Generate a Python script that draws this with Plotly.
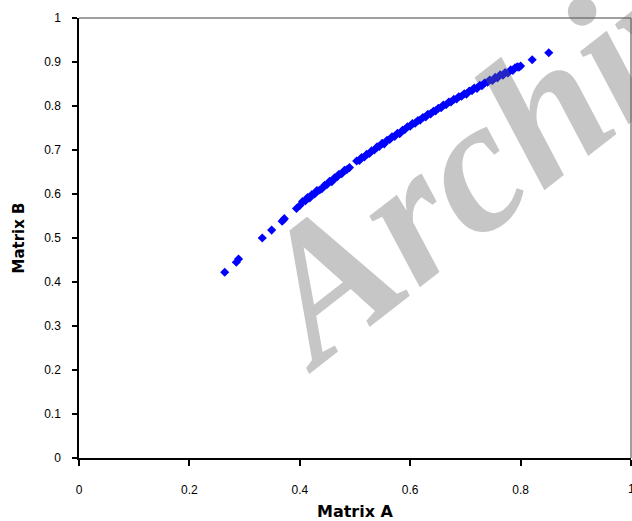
import plotly.graph_objects as go

# Matrix A (x) and Matrix B (y) values
matrix_a = [0.264, 0.285, 0.289, 0.332, 0.349, 0.368, 0.370, 0.372, 0.394,
            0.400, 0.405, 0.410, 0.414, 0.418, 0.422, 0.427, 0.431, 0.436, 0.440,
            0.445, 0.449, 0.454, 0.458, 0.463, 0.467, 0.471, 0.476, 0.481, 0.485,
            0.490, 0.503, 0.508, 0.512, 0.517, 0.521, 0.526, 0.530, 0.535, 0.540,
            0.544, 0.549, 0.553, 0.558, 0.563, 0.567, 0.572, 0.577, 0.581, 0.586,
            0.590, 0.595, 0.600, 0.604, 0.609, 0.614, 0.618, 0.623, 0.628, 0.632,
            0.637, 0.642, 0.646, 0.651, 0.656, 0.660, 0.665, 0.670, 0.674, 0.679,
            0.684, 0.688, 0.693, 0.698, 0.702, 0.707, 0.712, 0.716, 0.721, 0.726,
            0.730, 0.735, 0.740, 0.744, 0.749, 0.754, 0.758, 0.763, 0.768, 0.772,
            0.777, 0.782, 0.786, 0.790, 0.794, 0.797, 0.800, 0.821, 0.851]
matrix_b = [0.422, 0.445, 0.452, 0.500, 0.518, 0.538, 0.541, 0.544, 0.567,
            0.574, 0.583, 0.584, 0.592, 0.591, 0.599, 0.600, 0.608, 0.609, 0.612,
            0.620, 0.621, 0.629, 0.628, 0.637, 0.638, 0.645, 0.646, 0.654, 0.655,
            0.660, 0.675, 0.676, 0.683, 0.684, 0.690, 0.692, 0.698, 0.700, 0.707,
            0.708, 0.715, 0.714, 0.722, 0.724, 0.730, 0.731, 0.738, 0.737, 0.745,
            0.746, 0.753, 0.754, 0.760, 0.761, 0.767, 0.768, 0.774, 0.775, 0.781,
            0.782, 0.788, 0.789, 0.795, 0.796, 0.802, 0.803, 0.809, 0.809, 0.815,
            0.816, 0.821, 0.822, 0.828, 0.827, 0.834, 0.835, 0.841, 0.840, 0.847,
            0.846, 0.853, 0.854, 0.859, 0.858, 0.865, 0.864, 0.871, 0.870, 0.876,
            0.875, 0.882, 0.881, 0.887, 0.889, 0.888, 0.891, 0.905, 0.921]

x_ticks = [0, 0.2, 0.4, 0.6, 0.8]
x_tick_text = ["0", "0.2", "0.4", "0.6", "0.8"]
x_last_tick = 1
x_last_tick_text = "1"
y_ticks = [0, 0.1, 0.2, 0.3, 0.4, 0.5, 0.6, 0.7, 0.8, 0.9, 1]
y_tick_text = ["0", "0.1", "0.2", "0.3", "0.4", "0.5", "0.6", "0.7", "0.8", "0.9", "1"]

font_family = "Liberation Sans, Arial, sans-serif"
title_family = "DejaVu Sans, sans-serif"

fig = go.Figure()
fig.add_trace(go.Scatter(
    x=matrix_a, y=matrix_b, mode="markers",
    marker=dict(symbol="diamond", size=7, color="#0000FF", line=dict(width=0)),
    showlegend=False, cliponaxis=False,
))

fig.update_layout(
    width=632, height=521,
    margin=dict(l=79, r=1, t=18, b=63),
    paper_bgcolor="white", plot_bgcolor="white",
    font=dict(family=font_family, size=12, color="black"),
    xaxis=dict(
        range=[0, 1], tickvals=x_ticks + [x_last_tick], ticktext=x_tick_text + [""],
        showgrid=False, zeroline=False, showline=True, linecolor="black", linewidth=1.5,
        ticks="outside", ticklen=6, tickwidth=1.5, tickcolor="black",
        ticklabelstandoff=14,
        tickfont=dict(family=font_family, size=12),
        title=dict(text="<b>Matrix A</b>", font=dict(family=title_family, size=16), standoff=10),
    ),
    yaxis=dict(
        range=[0, 1], tickvals=y_ticks, ticktext=y_tick_text,
        showgrid=False, zeroline=False, showline=True, linecolor="black", linewidth=1.5,
        ticks="outside", ticklen=5, tickwidth=1.5, tickcolor="black",
        ticklabelstandoff=9,
        tickfont=dict(family=font_family, size=12),
        title=dict(text="<b>Matrix B</b>", font=dict(family=title_family, size=15), standoff=16),
    ),
    xaxis2=dict(range=[0, 1], overlaying="x", side="bottom", tickvals=x_ticks + [x_last_tick],
                showticklabels=False, ticks="inside", ticklen=4, tickwidth=1.5,
                tickcolor="black", showgrid=False, zeroline=False, showline=False),
    yaxis2=dict(range=[0, 1], overlaying="y", side="left", tickvals=y_ticks,
                showticklabels=False, ticks="inside", ticklen=4, tickwidth=1.5,
                tickcolor="black", showgrid=False, zeroline=False, showline=False),
    shapes=[
        dict(type="line", xref="paper", yref="paper", x0=0, x1=1, y0=1, y1=1,
             line=dict(color="#808080", width=1.5)),
        dict(type="line", xref="paper", yref="paper", x0=1, x1=1, y0=0, y1=1,
             line=dict(color="#808080", width=1.5)),
    ],
    annotations=[
        dict(text=x_last_tick_text, xref="x", yref="paper", x=x_last_tick, y=0,
             yshift=-31, xanchor="center", yanchor="middle", showarrow=False,
             font=dict(family=font_family, size=12, color="black")),
        dict(text="Archive", xref="paper", yref="paper", x=0.79, y=0.74,
             xanchor="center", yanchor="middle",
             showarrow=False, textangle=-38,
             font=dict(family="Liberation Serif, serif", size=190, weight="bold",
                       style="italic", color="rgba(100,100,100,0.37)")),
    ],
)

fig.write_html("out.html")
